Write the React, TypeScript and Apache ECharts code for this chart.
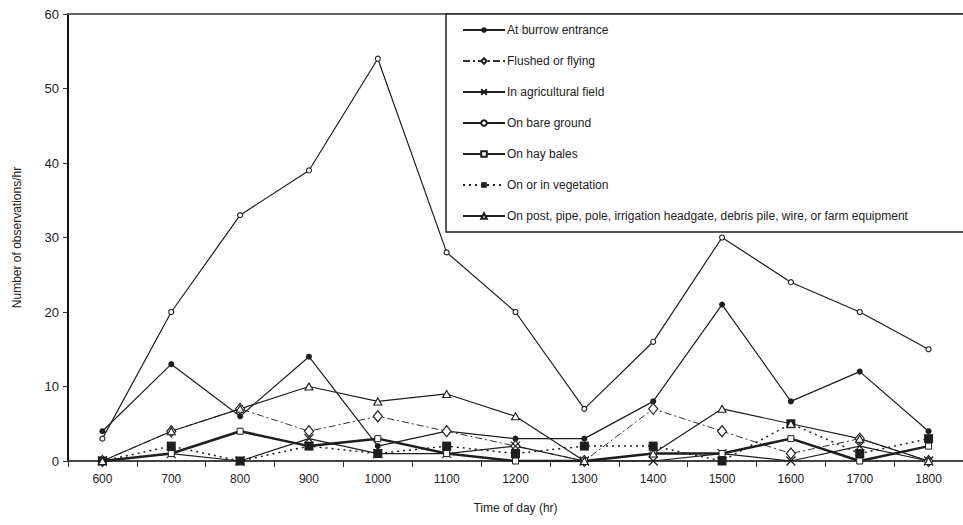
import React, { useEffect, useRef } from "react";
import * as echarts from "echarts";

const categories = ["600", "700", "800", "900", "1000", "1100", "1200", "1300", "1400", "1500", "1600", "1700", "1800"];
const burrow = [4, 13, 6, 14, 2, 4, 3, 3, 8, 21, 8, 12, 4];
const flushed = [0, 4, 7, 4, 6, 4, 2, 0, 7, 4, 1, 3, 0];
const agricultural = [0, 1, 0, 3, 1, 1, 2, 0, 0, 1, 0, 2, 0];
const bareGround = [3, 20, 33, 39, 54, 28, 20, 7, 16, 30, 24, 20, 15];
const hayBales = [0, 1, 4, 2, 3, 1, 0, 0, 1, 1, 3, 0, 2];
const vegetation = [0, 2, 0, 2, 1, 2, 1, 2, 2, 0, 5, 1, 3];
const post = [0, 4, 7, 10, 8, 9, 6, 0, 1, 7, 5, 3, 0];

const names = [
  "At burrow entrance",
  "Flushed or flying",
  "In agricultural field",
  "On bare ground",
  "On hay bales",
  "On or in vegetation",
  "On post, pipe, pole, irrigation headgate, debris pile, wire, or farm equipment",
];

const INK = "#1e1e1e";
const FONT = "Liberation Sans, Arial, sans-serif";

export default function App() {
  const ref = useRef<HTMLDivElement>(null);
  useEffect(() => {
    if (!ref.current) return;
    const chart = echarts.init(ref.current, null, { renderer: "svg" });
    const base = (name: string, data: number[], extra: any) => ({
      name,
      type: "line",
      data,
      z: 3,
      ...extra,
    });
    chart.setOption({
      animation: false,
      textStyle: { fontFamily: FONT },
      grid: { left: 68, top: 14, width: 903, bottom: 64, containLabel: false },
      xAxis: {
        type: "category",
        data: categories,
        boundaryGap: true,
        name: "Time of day (hr)",
        nameLocation: "middle",
        nameGap: 41,
        nameTextStyle: { fontSize: 12, color: "#222", fontFamily: FONT },
        axisLine: { lineStyle: { color: "#444", width: 2 } },
        axisTick: { show: true, length: 6, lineStyle: { color: "#333" }, alignWithLabel: false },
        axisLabel: { fontSize: 12, color: "#222", margin: 12, fontFamily: FONT },
        splitLine: { show: false },
      },
      yAxis: {
        type: "value",
        min: 0,
        max: 60,
        interval: 10,
        name: "Number of observations/hr",
        nameLocation: "middle",
        nameGap: 45,
        nameRotate: 90,
        nameTextStyle: { fontSize: 12, color: "#222", fontFamily: FONT },
        axisLine: { show: true, lineStyle: { color: "#111", width: 2 } },
        axisTick: { show: true, length: 5, lineStyle: { color: "#333" } },
        axisLabel: { fontSize: 13, color: "#222", margin: 9, fontFamily: FONT },
        splitLine: { show: false },
      },
      legend: {
        orient: "vertical",
        left: 446,
        top: 14,
        padding: [10, 80, 10, 16],
        itemGap: 19,
        itemWidth: 42,
        itemHeight: 7,
        backgroundColor: "#fff",
        borderColor: "#222",
        borderWidth: 1.5,
        textStyle: { fontSize: 12, color: "#222", fontFamily: FONT, padding: [0, 0, 0, -3] },
        data: names,
      },
      graphic: [
        {
          type: "line",
          shape: { x1: 68, y1: 14, x2: 963, y2: 14 },
          style: { stroke: "#666", lineWidth: 2 },
          z: 1,
        },
      ],
      series: [
        base(names[0], burrow, {
          symbol: "circle",
          symbolSize: 6,
          lineStyle: { color: INK, width: 1.2, type: "solid" },
          itemStyle: { color: INK, borderColor: INK, borderWidth: 0 },
        }),
        base(names[1], flushed, {
          symbol: "diamond",
          symbolSize: [9, 11],
          lineStyle: { color: "#333", width: 1, type: [7, 3, 2, 3] },
          itemStyle: { color: "#fff", borderColor: "#222", borderWidth: 1.2 },
        }),
        base(names[2], agricultural, {
          symbol: "path://M0 0L10 10M10 0L0 10",
          symbolSize: 9,
          lineStyle: { color: INK, width: 1.2, type: "solid" },
          itemStyle: { color: "none", borderColor: INK, borderWidth: 1.2 },
        }),
        base(names[3], bareGround, {
          symbol: "circle",
          symbolSize: 5,
          lineStyle: { color: INK, width: 1.2, type: "solid" },
          itemStyle: { color: "#fff", borderColor: INK, borderWidth: 1.1 },
        }),
        base(names[4], hayBales, {
          symbol: "rect",
          symbolSize: 6,
          lineStyle: { color: INK, width: 2.5, type: "solid" },
          itemStyle: { color: "#fff", borderColor: INK, borderWidth: 1 },
        }),
        base(names[5], vegetation, {
          symbol: "rect",
          symbolSize: 9,
          lineStyle: { color: INK, width: 1.5, type: [2, 4] },
          itemStyle: { color: INK, borderColor: INK, borderWidth: 0 },
        }),
        base(names[6], post, {
          symbol: "triangle",
          symbolSize: [8, 7],
          lineStyle: { color: INK, width: 1.2, type: "solid" },
          itemStyle: { color: "#fff", borderColor: INK, borderWidth: 1.1 },
        }),
      ],
    });
    return () => chart.dispose();
  }, []);
  return <div ref={ref} style={{ width: 963, height: 525, position: "absolute", left: 0, top: 0 }} />;
}
